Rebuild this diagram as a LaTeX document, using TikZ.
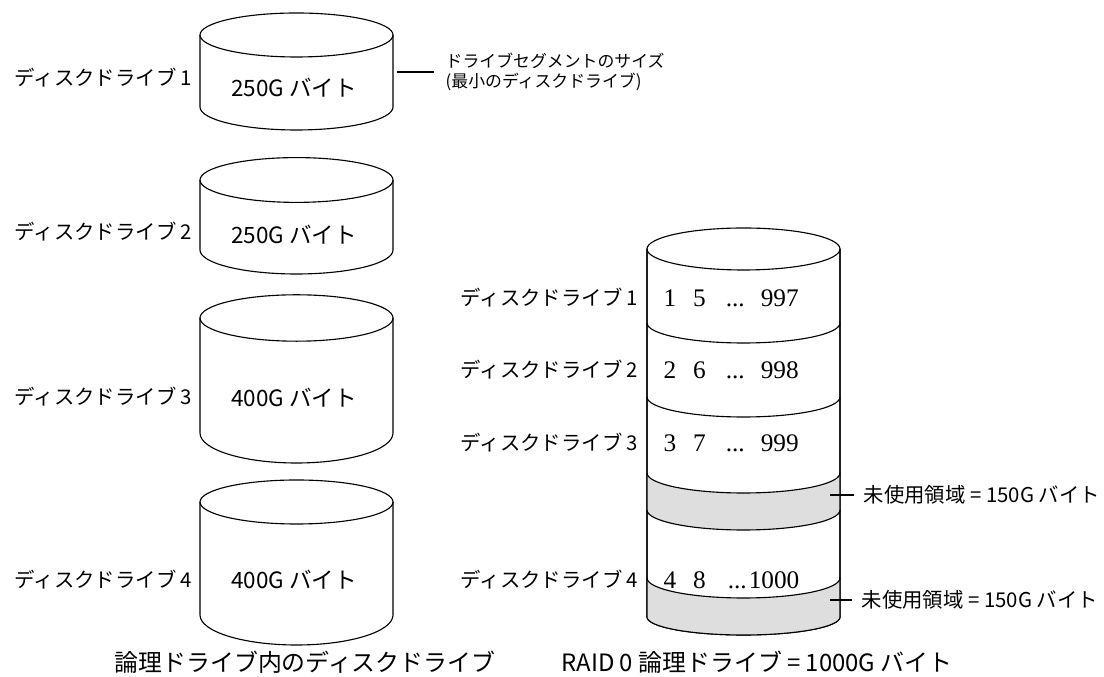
\documentclass[tikz,border=0pt]{standalone}
\usepackage{fontspec}
\setmainfont{Noto Sans CJK JP}
\newfontfamily\numfont{Liberation Serif}
\tikzset{
  diskbody/.style={fill=white, draw=black, line width=0.8pt},
  diskspare/.style={fill=black!13},
  diskline/.style={draw=black, line width=0.8pt},
  leader/.style={draw=black, line width=0.8pt},
  disklabel/.style={font=\fontsize{14.5}{17}\selectfont, inner sep=1pt},
  sizetext/.style={font=\fontsize{16}{18}\selectfont, inner sep=1pt},
  stripetext/.style={font=\numfont\fontsize{18}{20}\selectfont, inner sep=1pt},
  notetext/.style={font=\fontsize{12}{14.5}\selectfont, inner sep=1pt, align=left},
  titletext/.style={font=\fontsize{17}{19}\selectfont, inner sep=1pt},
}

\begin{document}
\begin{tikzpicture}
\useasboundingbox (0,0) rectangle (27.6,16.925);
\draw[diskbody] (5.0,16.05) -- (5.0,14.25) arc[start angle=180, end angle=360, x radius=2.4125, y radius=0.575] -- (9.825,16.05);
\draw[diskline] (7.4125,16.05) ellipse [x radius=2.4125, y radius=0.55];
\draw[diskbody] (5.0,12.425) -- (5.0,10.675) arc[start angle=180, end angle=360, x radius=2.4125, y radius=0.6] -- (9.825,12.425);
\draw[diskline] (7.4125,12.425) ellipse [x radius=2.4125, y radius=0.56];
\draw[diskbody] (5.0,8.975) -- (5.0,6.1) arc[start angle=180, end angle=360, x radius=2.4125, y radius=0.75] -- (9.825,8.975);
\draw[diskline] (7.4125,8.975) ellipse [x radius=2.4125, y radius=0.58];
\draw[diskbody] (5.0,4.375) -- (5.0,1.55) arc[start angle=180, end angle=360, x radius=2.4125, y radius=0.75] -- (9.825,4.375);
\draw[diskline] (7.4125,4.375) ellipse [x radius=2.4125, y radius=0.55];
\node[disklabel, anchor=east] (ldisk1) at (4.85,14.975) {ディスクドライブ 1};
\node[disklabel, anchor=east] (ldisk2) at (4.85,11.125) {ディスクドライブ 2};
\node[disklabel, anchor=east] (ldisk3) at (4.85,7.0) {ディスクドライブ 3};
\node[disklabel, anchor=east] (ldisk4) at (4.85,2.425) {ディスクドライブ 4};
\node[sizetext] (lsize1) at (7.35,14.725) {250G バイト};
\node[sizetext] (lsize2) at (7.35,11.05) {250G バイト};
\node[sizetext] (lsize3) at (7.35,6.975) {400G バイト};
\node[sizetext] (lsize4) at (7.35,2.425) {400G バイト};
\coordinate (segfrom) at (9.925,15.125);
\coordinate (segto) at (10.85,15.125);
\draw[leader] (segfrom) -- (segto);
\node[notetext, anchor=west] (segnote) at (11.1,15.125) {ドライブセグメントのサイズ\\(最小のディスクドライブ)};
\draw[diskbody] (16.175,10.7) -- (16.175,1.5) arc[start angle=180, end angle=360, x radius=2.4125, y radius=0.45] -- (21.0,10.7);
\fill[diskspare] (16.175,5.1) arc[start angle=180, end angle=360, x radius=2.4125, y radius=0.5] -- (21.0,4.175) arc[start angle=0, end angle=-180, x radius=2.4125, y radius=0.5] -- cycle;
\fill[diskspare] (16.175,2.475) arc[start angle=180, end angle=360, x radius=2.4125, y radius=0.5] -- (21.0,1.5) arc[start angle=0, end angle=-180, x radius=2.4125, y radius=0.45] -- cycle;
\draw[diskline] (16.175,10.7) -- (16.175,1.5) arc[start angle=180, end angle=360, x radius=2.4125, y radius=0.45] -- (21.0,10.7);
\draw[diskline] (18.5875,10.7) ellipse [x radius=2.4125, y radius=0.525];
\draw[diskline] (16.175,8.85) arc[start angle=180, end angle=360, x radius=2.4125, y radius=0.5];
\draw[diskline] (16.175,7.0) arc[start angle=180, end angle=360, x radius=2.4125, y radius=0.5];
\draw[diskline] (16.175,5.1) arc[start angle=180, end angle=360, x radius=2.4125, y radius=0.5];
\draw[diskline] (16.175,4.175) arc[start angle=180, end angle=360, x radius=2.4125, y radius=0.5];
\draw[diskline] (16.175,2.475) arc[start angle=180, end angle=360, x radius=2.4125, y radius=0.5];
\node[disklabel, anchor=east] (rdisk1) at (16.0,9.475) {ディスクドライブ 1};
\node[disklabel, anchor=east] (rdisk2) at (16.0,7.675) {ディスクドライブ 2};
\node[disklabel, anchor=east] (rdisk3) at (16.0,5.85) {ディスクドライブ 3};
\node[disklabel, anchor=east] (rdisk4) at (16.0,2.425) {ディスクドライブ 4};
\node[stripetext, anchor=west] (stripe1) at (16.55,9.475) {1\hspace{0.42cm}5\hspace{0.5cm}...\hspace{0.4cm}997};
\node[stripetext, anchor=west] (stripe2) at (16.55,7.675) {2\hspace{0.42cm}6\hspace{0.5cm}...\hspace{0.4cm}998};
\node[stripetext, anchor=west] (stripe3) at (16.55,5.85) {3\hspace{0.42cm}7\hspace{0.5cm}...\hspace{0.4cm}999};
\node[stripetext, anchor=west] (stripe4) at (16.55,2.425) {4\hspace{0.42cm}8\hspace{0.55cm}...\hspace{0.05cm}1000};
\coordinate (spare1from) at (20.75,4.55);
\coordinate (spare1to) at (21.35,4.55);
\coordinate (spare2from) at (20.75,1.925);
\coordinate (spare2to) at (21.3,1.925);
\draw[leader] (spare1from) -- (spare1to);
\draw[leader] (spare2from) -- (spare2to);
\node[disklabel, anchor=west] (spare1) at (21.55,4.55) {未使用領域 = 150G バイト};
\node[disklabel, anchor=west] (spare2) at (21.5,1.925) {未使用領域 = 150G バイト};
\node[titletext] (lefttitle) at (7.625,0.375) {論理ドライブ内のディスクドライブ};
\node[titletext] (righttitle) at (18.925,0.375) {RAID 0 論理ドライブ = 1000G バイト};
\end{tikzpicture}
\end{document}
